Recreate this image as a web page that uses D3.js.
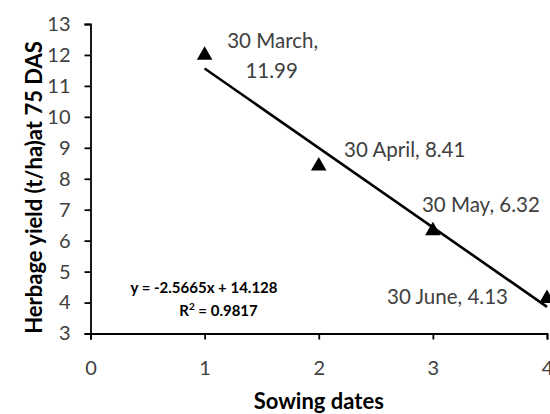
<!DOCTYPE html>
<html>
<head>
<meta charset="utf-8">
<script src="https://cdn.jsdelivr.net/npm/d3@7"></script>
<style>
  body { margin: 0; background: #fff; }
  svg { display: block; }
  text { font-family: Lato, "Open Sans", sans-serif; }
</style>
</head>
<body>
<svg id="chart" width="550" height="414"></svg>
<script>
// Data
const sowingDates = [1, 2, 3, 4];
const dateLabels = ["30 March", "30 April", "30 May", "30 June"];
const herbageYield = [11.99, 8.41, 6.32, 4.13];
const xTicks = [0, 1, 2, 3, 4];
const yTicks = [3, 4, 5, 6, 7, 8, 9, 10, 11, 12, 13];
const trendSlope = -2.5665;
const trendIntercept = 14.128;
const rSquared = 0.9817;

const svg = d3.select("#chart");
const x = d3.scaleLinear().domain([0, 4]).range([90.5, 547]);
const y = d3.scaleLinear().domain([3, 13]).range([333.5, 24]);
const textColor = "#404040";
const tickFont = "20px";

// Y axis
const yAxis = svg.append("g")
  .attr("transform", `translate(${x(0)},0)`)
  .call(d3.axisLeft(y).tickValues(yTicks).tickSize(6).tickPadding(14).tickFormat(d3.format("d")));
yAxis.select(".domain").attr("stroke", "#000").attr("stroke-width", 1.8);
yAxis.selectAll(".tick line").attr("stroke", "#000").attr("stroke-width", 1.8);
yAxis.selectAll(".tick text").attr("fill", textColor).style("font-size", tickFont).style("font-family", "Lato");

// X axis
const xAxis = svg.append("g")
  .attr("transform", `translate(0,${y(3)})`)
  .call(d3.axisBottom(x).tickValues(xTicks).tickSize(6).tickPadding(21).tickFormat(d3.format("d")));
xAxis.select(".domain").attr("stroke", "#000").attr("stroke-width", 1.8);
xAxis.selectAll(".tick line").attr("stroke", "#000").attr("stroke-width", 1.8);
xAxis.selectAll(".tick text").attr("fill", textColor).style("font-size", tickFont).style("font-family", "Lato");

// Axis titles
svg.append("text")
  .attr("x", x(2)).attr("y", 409)
  .attr("text-anchor", "middle")
  .attr("fill", "#000")
  .style("font-size", "22px").style("font-weight", "bold")
  .text("Sowing dates");

svg.append("text")
  .attr("transform", `translate(42,187.5) rotate(-90)`)
  .attr("text-anchor", "middle")
  .attr("fill", "#000")
  .style("font-size", "22px").style("font-weight", "bold")
  .text("Herbage yield (t/ha)at 75 DAS");

// Trendline
const xMin = d3.min(sowingDates), xMax = d3.max(sowingDates);
svg.append("line")
  .attr("x1", x(xMin)).attr("y1", y(trendSlope * xMin + trendIntercept))
  .attr("x2", x(xMax)).attr("y2", y(trendSlope * xMax + trendIntercept))
  .attr("stroke", "#000").attr("stroke-width", 2.6);

// Markers
const tri = d3.symbol().type(d3.symbolTriangle).size(105);
svg.selectAll("path.pt")
  .data(sowingDates)
  .join("path")
  .attr("class", "pt")
  .attr("d", tri)
  .attr("fill", "#000")
  .attr("transform", (d, i) => `translate(${x(d)},${y(herbageYield[i])})`);

// Data labels
const labelFont = "20.5px";
const marchLabel = svg.append("text")
  .attr("fill", textColor).attr("text-anchor", "middle")
  .style("font-size", labelFont);
marchLabel.append("tspan").attr("x", x(1) + 68).attr("y", y(herbageYield[0]) - 7).text(dateLabels[0] + ",");
marchLabel.append("tspan").attr("x", x(1) + 67).attr("dy", 29.5).text(d3.format(".2f")(herbageYield[0]));

svg.append("text").attr("fill", textColor).attr("text-anchor", "middle")
  .style("font-size", labelFont)
  .attr("x", x(2) + 86).attr("y", y(herbageYield[1]) - 9)
  .text(dateLabels[1] + ", " + d3.format(".2f")(herbageYield[1]));

svg.append("text").attr("fill", textColor).attr("text-anchor", "middle")
  .style("font-size", labelFont)
  .attr("x", x(3) + 48).attr("y", y(herbageYield[2]) - 19)
  .text(dateLabels[2] + ", " + d3.format(".2f")(herbageYield[2]));

svg.append("text").attr("fill", textColor).attr("text-anchor", "middle")
  .style("font-size", labelFont)
  .attr("x", x(4) - 99.5).attr("y", y(herbageYield[3]) + 5)
  .text(dateLabels[3] + ", " + d3.format(".2f")(herbageYield[3]));

// Equation
svg.append("text").attr("fill", "#000").attr("text-anchor", "middle")
  .style("font-size", "15px").style("font-weight", "bold")
  .attr("x", 204).attr("y", 293)
  .text(`y = ${trendSlope}x + ${trendIntercept}`);
const r2 = svg.append("text").attr("fill", "#000").attr("text-anchor", "middle")
  .style("font-size", "15px").style("font-weight", "bold")
  .attr("x", 218.5).attr("y", 316);
r2.append("tspan").text("R");
r2.append("tspan").attr("dy", -6).style("font-size", "10px").text("2");
r2.append("tspan").attr("dy", 6).text(` = ${rSquared}`);
</script>
</body>
</html>
